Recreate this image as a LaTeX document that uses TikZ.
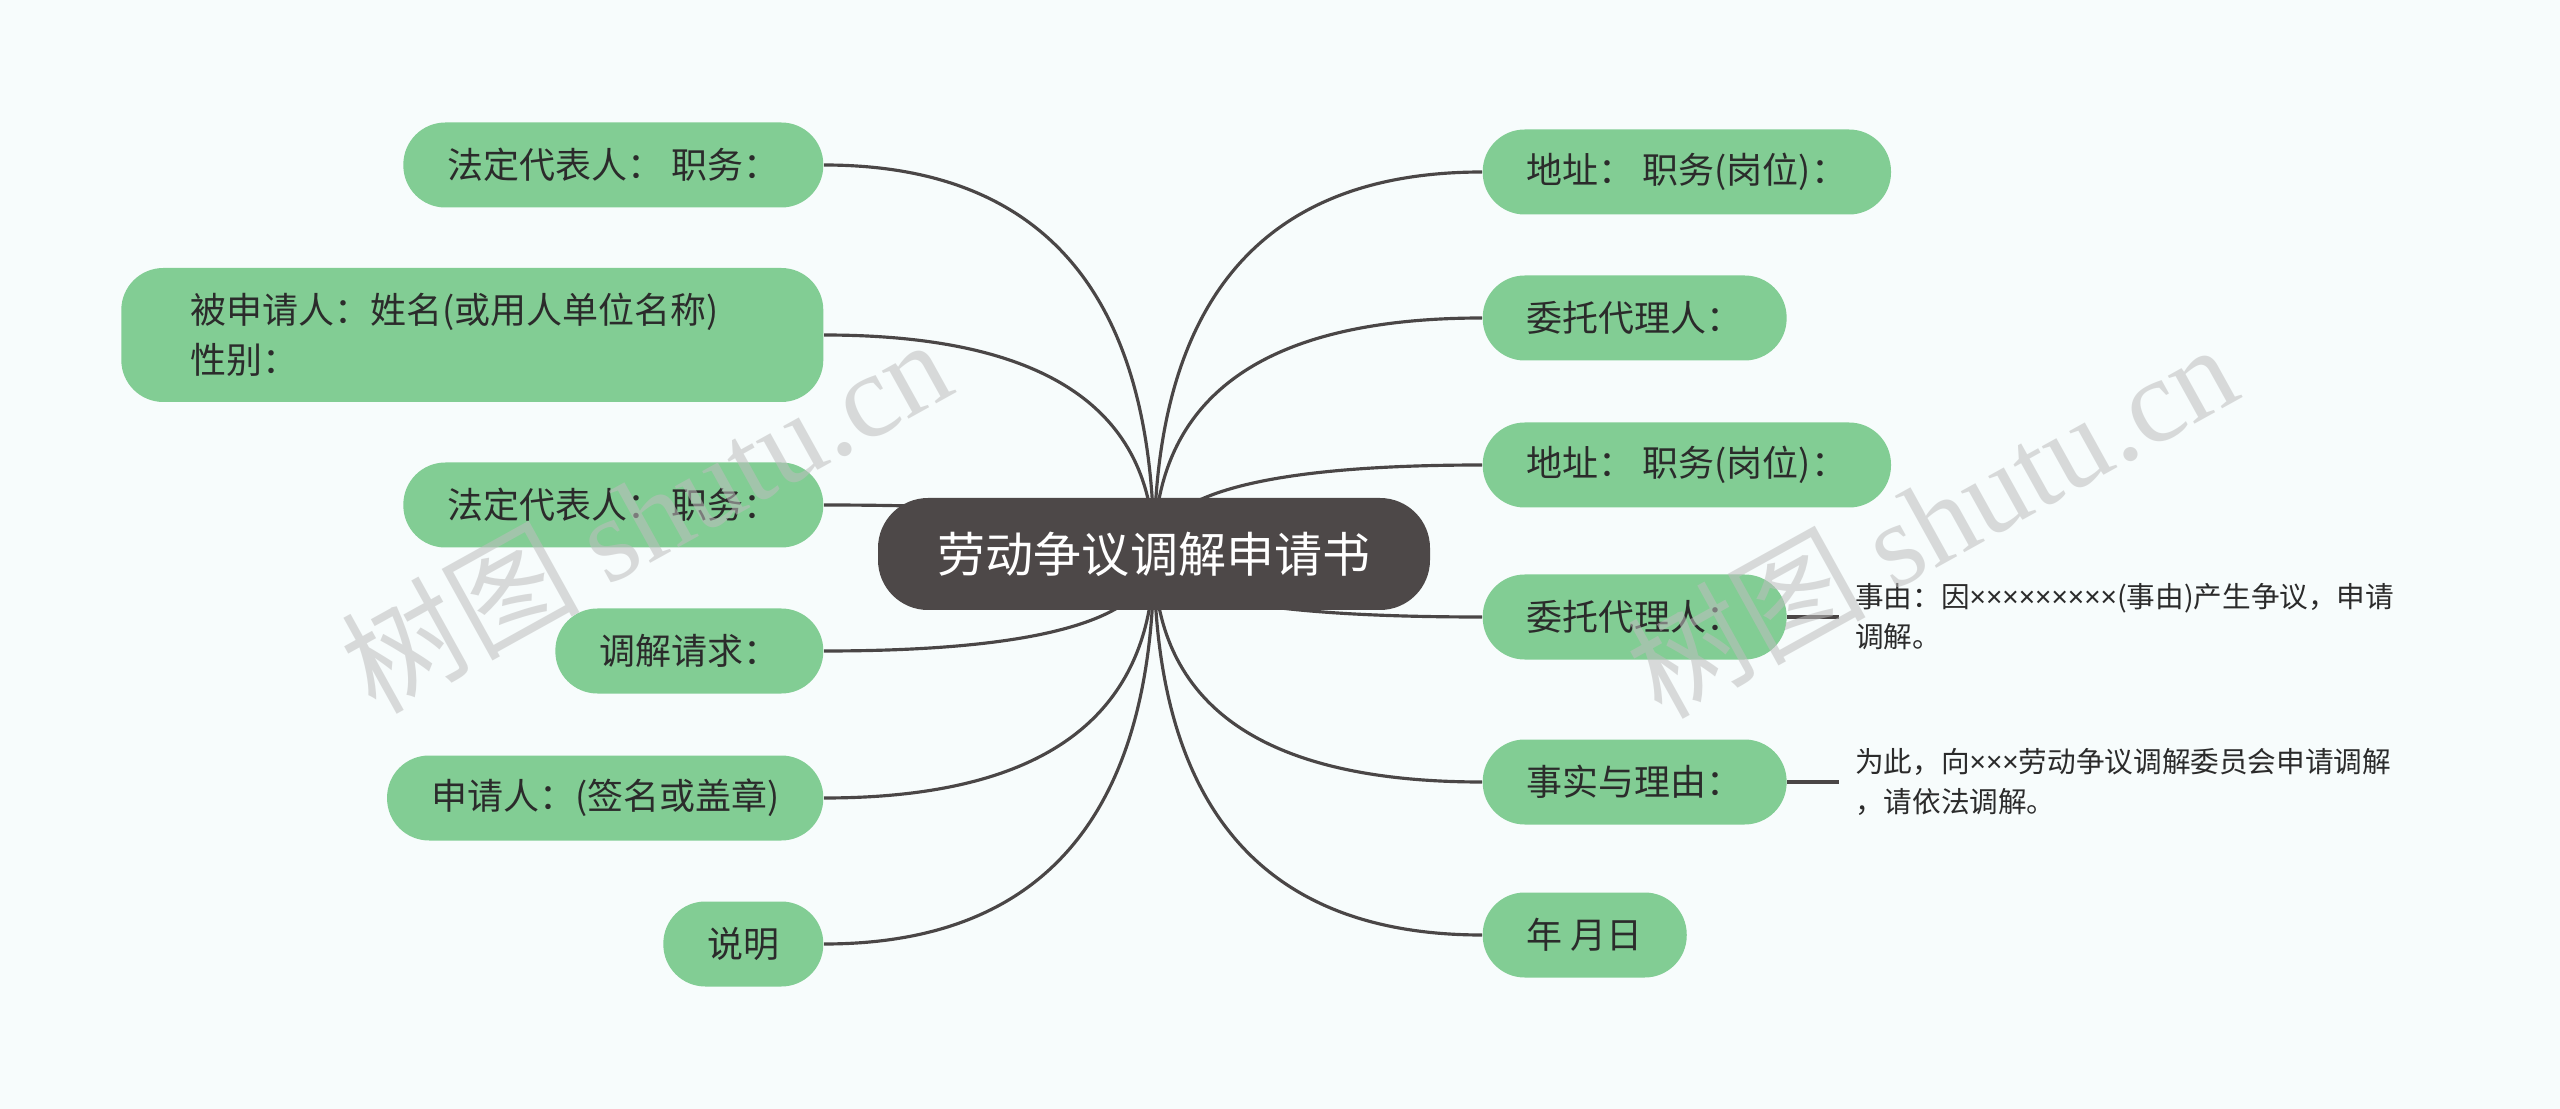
\documentclass[tikz,border=0pt]{standalone}
\usepackage{fontspec}
\setmainfont{Noto Sans CJK SC}
\newfontfamily\marklatin{Liberation Serif}
\newfontfamily\crossfont{Noto Sans}
\usepackage{xcolor}
\definecolor{BranchGreen}{HTML}{82CD94}
\definecolor{HubGray}{HTML}{4D4848}
\definecolor{LinkGray}{HTML}{4A4646}
\definecolor{TextDark}{HTML}{2B2B2B}
\definecolor{PaperTint}{HTML}{F7FCFC}
\definecolor{MarkGray}{HTML}{BEBEBE}
\usetikzlibrary{calc,positioning}
\pgfdeclarelayer{paper}
\pgfdeclarelayer{links}
\pgfsetlayers{paper,links,main}

\begin{document}
\begin{tikzpicture}[
  topic/.style={rectangle, rounded corners=0.42cm, fill=BranchGreen, text=TextDark,
                minimum height=0.85cm, inner xsep=0.44cm, inner ysep=0.1cm,
                font=\fontsize{10.24pt}{14.2pt}\selectfont},
  hub/.style={rectangle, rounded corners=0.5cm, fill=HubGray, text=white,
              minimum width=5.52cm, minimum height=1.12cm,
              font=\fontsize{13.66pt}{16pt}\selectfont},
  note/.style={inner xsep=0.15cm, text=TextDark, align=left,
               font=\fontsize{8.15pt}{11.4pt}\selectfont},
  link/.style={draw=LinkGray, line width=0.9pt},
  branch/.style={to path={.. controls ($(\tikztostart)!0.667!(\tikztostart |- \tikztotarget)$)
                 and ($(\tikztotarget)!0.667!(\tikztostart |- \tikztotarget)$) .. (\tikztotarget)}},
  wmark/.style={text=MarkGray, opacity=0.55, rotate=29,
                font=\fontsize{34pt}{36pt}\selectfont},
]
  \useasboundingbox (0,0) rectangle (25.6,-11.09);
  \begin{pgfonlayer}{paper}
    \fill[PaperTint] (0,0) rectangle (25.6,-11.09);
  \end{pgfonlayer}

  % Root
  \node[hub] (hub) at (11.54,-5.54) {劳动争议调解申请书};

  % Left branches
  \node[topic, anchor=east] (l1) at (8.24,-1.65) {法定代表人： 职务：};
  \node[topic, anchor=east, align=left, text width=5.64cm, inner xsep=0.69cm,
        minimum height=1.34cm] (l2) at (8.24,-3.35) {被申请人：姓名(或用人单位名称)\\性别：};
  \node[topic, anchor=east] (l3) at (8.24,-5.05) {法定代表人： 职务：};
  \node[topic, anchor=east] (l4) at (8.24,-6.51) {调解请求：};
  \node[topic, anchor=east] (l5) at (8.24,-7.98) {申请人：(签名或盖章)};
  \node[topic, anchor=east] (l6) at (8.24,-9.44) {说明};

  % Right branches
  \node[topic, anchor=west] (r1) at (14.82,-1.72) {地址： 职务(岗位)：};
  \node[topic, anchor=west] (r2) at (14.82,-3.18) {委托代理人：};
  \node[topic, anchor=west] (r3) at (14.82,-4.65) {地址： 职务(岗位)：};
  \node[topic, anchor=west] (r4) at (14.82,-6.17) {委托代理人：};
  \node[topic, anchor=west] (r5) at (14.82,-7.82) {事实与理由：};
  \node[topic, anchor=west] (r6) at (14.82,-9.35) {年 月日};

  % Notes
  \node[note, anchor=west, right=0.52cm of r4] (reason)
    {事由：因{\crossfont ×××××××××}(事由)产生争议，申请\\调解。};
  \node[note, anchor=west, right=0.52cm of r5] (request)
    {为此，向{\crossfont ×××}劳动争议调解委员会申请调解\\，请依法调解。};

  % Curved links from the root
  \begin{pgfonlayer}{links}
    \foreach \side/\tip in {l1/east,l2/east,l3/east,l4/east,l5/east,l6/east,
                            r1/west,r2/west,r3/west,r4/west,r5/west,r6/west}
      \draw[link] (hub.center) to[branch] (\side.\tip);
  \end{pgfonlayer}
  \draw[link] (r4.east) -- (reason.west);
  \draw[link] (r5.east) -- (request.west);

  % Watermarks
  \node[wmark] (mark1) at (6.45,-5.14) {树图 {\marklatin shutu.cn}};
  \node[wmark] (mark2) at (19.31,-5.19) {树图 {\marklatin shutu.cn}};
\end{tikzpicture}
\end{document}
